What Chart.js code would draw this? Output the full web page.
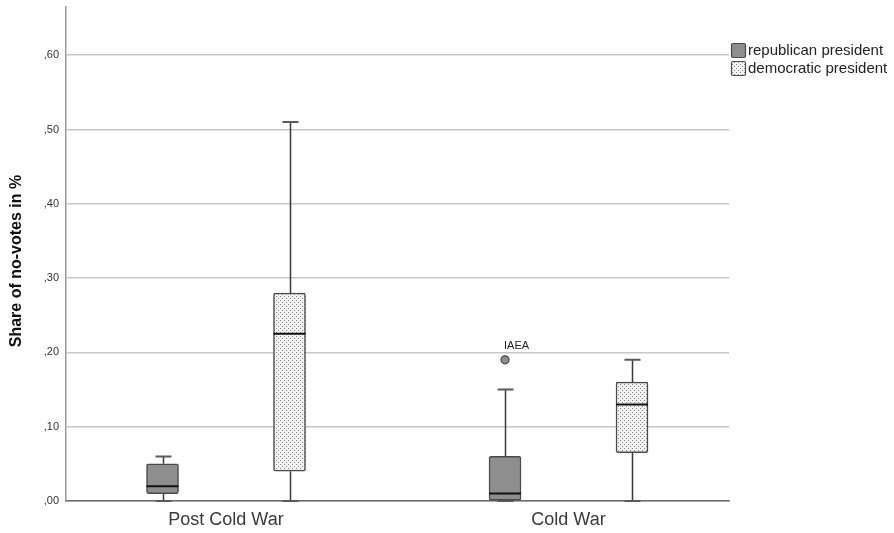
<!DOCTYPE html>
<html><head><meta charset="utf-8">
<script src="https://cdn.jsdelivr.net/npm/chart.js@4.4.1/dist/chart.umd.min.js"></script>
<style>html,body{margin:0;padding:0;background:#fff;}#wrap{width:894px;height:533px;}</style>
</head><body><div id="wrap"><canvas id="c" width="894" height="533"></canvas></div>
<script>
// ---- data ----
const categories = ['Post Cold War', 'Cold War'];
const seriesNames = ['republican president', 'democratic president'];
// [min, q1, median, q3, max] per category
const repStats = [[0.00, 0.01, 0.02, 0.05, 0.06], [0.00, 0.00, 0.01, 0.06, 0.15]];
const demStats = [[0.00, 0.04, 0.225, 0.28, 0.51], [0.00, 0.065, 0.13, 0.16, 0.19]];
const outlierCategory = ['Cold War'];
const outlierValue = [0.19];
const outlierLabel = ['IAEA'];
const yTicks = [0, 0.1, 0.2, 0.3, 0.4, 0.5, 0.6];
const yTitle = 'Share of no-votes in %';

// ---- styles ----
const FONT = '"Liberation Sans", Arial, sans-serif';
const GROUP_OFFSET = 0.1854;
const REP_FILL = '#8e8e8e';
const BOX_BORDER = '#4a4a4a';

function dotPattern() {
  const c = document.createElement('canvas');
  c.width = 4; c.height = 4;
  const g = c.getContext('2d');
  g.fillStyle = '#f2f2f2'; g.fillRect(0, 0, 4, 4);
  g.fillStyle = '#858585';
  g.fillRect(0, 0, 1, 1); g.fillRect(2, 2, 1, 1);
  return g.createPattern(c, 'repeat');
}
const DEM_FILL = dotPattern();

const statsBySeries = [repStats, demStats];

const boxPlugin = {
  id: 'boxExtras',
  beforeDatasetsDraw(chart) {
    const ys = chart.scales.y, ctx = chart.ctx;
    [0, 1].forEach(di => {
      const meta = chart.getDatasetMeta(di);
      meta.data.forEach((bar, i) => {
        const s = statsBySeries[di][i];
        const x = Math.round(bar.x) + 0.5;
        ctx.save();
        ctx.strokeStyle = '#3a3a3a'; ctx.lineWidth = 1.5;
        ctx.beginPath();
        ctx.moveTo(x, ys.getPixelForValue(s[3])); ctx.lineTo(x, ys.getPixelForValue(s[4]));
        ctx.moveTo(x, ys.getPixelForValue(s[1])); ctx.lineTo(x, ys.getPixelForValue(s[0]));
        ctx.stroke();
        ctx.strokeStyle = '#5a5a5a'; ctx.lineWidth = 2;
        ctx.beginPath();
        [s[0], s[4]].forEach(v => {
          const yy = ys.getPixelForValue(v);
          ctx.moveTo(x - 8, yy); ctx.lineTo(x + 8, yy);
        });
        ctx.stroke();
        ctx.restore();
      });
    });
  },
  afterDatasetsDraw(chart) {
    const ys = chart.scales.y, ctx = chart.ctx;
    [0, 1].forEach(di => {
      const meta = chart.getDatasetMeta(di);
      meta.data.forEach((bar, i) => {
        const s = statsBySeries[di][i];
        const yy = ys.getPixelForValue(s[2]);
        ctx.save();
        ctx.strokeStyle = '#111'; ctx.lineWidth = 2;
        ctx.beginPath();
        ctx.moveTo(bar.x - bar.width / 2, yy); ctx.lineTo(bar.x + bar.width / 2, yy);
        ctx.stroke();
        ctx.restore();
      });
    });
    const om = chart.getDatasetMeta(2);
    om.data.forEach((pt, i) => {
      ctx.save();
      ctx.font = '11px ' + FONT; ctx.fillStyle = '#222';
      ctx.textAlign = 'left'; ctx.textBaseline = 'middle';
      ctx.fillText(outlierLabel[i], pt.x - 1, pt.y - 14);
      ctx.restore();
    });
  },
  afterDraw(chart) {
    const ctx = chart.ctx;
    // y axis title
    const ca = chart.chartArea;
    ctx.save();
    ctx.translate(17, (ca.top + ca.bottom) / 2 + 7);
    ctx.rotate(-Math.PI / 2);
    ctx.font = 'bold 16px ' + FONT; ctx.fillStyle = '#111';
    ctx.textAlign = 'center'; ctx.textBaseline = 'middle';
    ctx.fillText(yTitle, 0, 0);
    ctx.restore();
    // legend
    const x0 = ca.right + 2;
    const rows = [{ y: 43, fill: REP_FILL }, { y: 61, fill: DEM_FILL }];
    rows.forEach((r, i) => {
      ctx.save();
      ctx.fillStyle = r.fill;
      ctx.strokeStyle = BOX_BORDER; ctx.lineWidth = 1.2;
      ctx.beginPath();
      if (ctx.roundRect) ctx.roundRect(x0 + 0.5, r.y + 0.5, 14, 14, 1.5); else ctx.rect(x0 + 0.5, r.y + 0.5, 14, 14);
      ctx.fill(); ctx.stroke();
      ctx.font = '15px ' + FONT; ctx.fillStyle = '#222';
      ctx.textAlign = 'left'; ctx.textBaseline = 'middle';
      ctx.fillText(seriesNames[i], x0 + 17, r.y + 8);
      ctx.restore();
    });
  }
};

const catIndex = name => categories.indexOf(name);

new Chart(document.getElementById('c'), {
  type: 'bar',
  data: {
    datasets: [
      {
        label: seriesNames[0],
        data: repStats.map((s, i) => ({ x: i - GROUP_OFFSET, y: [s[1], s[3]] })),
        backgroundColor: REP_FILL, borderColor: BOX_BORDER, borderWidth: 1.5,
        borderSkipped: false, borderRadius: 2, barThickness: 32, grouped: false
      },
      {
        label: seriesNames[1],
        data: demStats.map((s, i) => ({ x: i + GROUP_OFFSET, y: [s[1], s[3]] })),
        backgroundColor: DEM_FILL, borderColor: BOX_BORDER, borderWidth: 1.5,
        borderSkipped: false, borderRadius: 2, barThickness: 32, grouped: false
      },
      {
        type: 'scatter',
        label: 'outliers',
        data: outlierCategory.map((c, i) => ({ x: catIndex(c) - GROUP_OFFSET, y: outlierValue[i] })),
        pointRadius: 4, backgroundColor: REP_FILL, borderColor: '#444', borderWidth: 1.2
      }
    ]
  },
  options: {
    responsive: false,
    animation: false,
    devicePixelRatio: 1,
    layout: { padding: { top: 7, right: 165, left: 0, bottom: 0 } },
    plugins: { legend: { display: false }, tooltip: { enabled: false } },
    scales: {
      x: {
        type: 'linear', min: -0.4672, max: 1.4686, offset: false, bounds: 'data',
        afterBuildTicks: s => { s.ticks = categories.map((c, i) => ({ value: i })); },
        afterFit: s => { s.height = 32; s.paddingLeft = 0; s.paddingRight = 0; },
        ticks: { callback: v => categories[v], font: { family: FONT, size: 18 }, color: '#3a3a3a', padding: 8, maxRotation: 0, autoSkip: false },
        grid: { display: false, drawTicks: false },
        border: { display: true, color: '#6a6a6a', width: 1.5 }
      },
      y: {
        min: 0, max: 0.6649,
        afterBuildTicks: s => { s.ticks = yTicks.map(v => ({ value: v })); },
        afterFit: s => { s.width = 66; s.paddingTop = 0; s.paddingBottom = 0; },
        ticks: {
          callback: v => ',' + String(Math.round(v * 100)).padStart(2, '0'),
          font: { family: FONT, size: 11 }, color: '#333', padding: 7
        },
        grid: { color: '#c8c8c8', lineWidth: 1.5, drawTicks: false },
        border: { display: true, color: '#999', width: 1.5 },
        title: { display: false }
      }
    }
  },
  plugins: [boxPlugin]
});
</script></body></html>
